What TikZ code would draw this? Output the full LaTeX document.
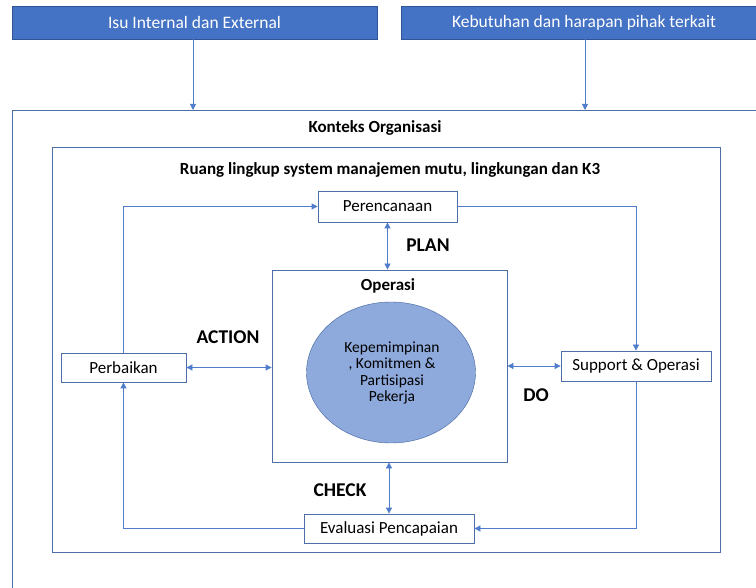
\documentclass[tikz,border=0pt]{standalone}
\usepackage{fontspec}
\setmainfont{Carlito}
\usetikzlibrary{arrows.meta,shapes.geometric}
\definecolor{boxblue}{HTML}{4472C4}
\definecolor{darkblue}{HTML}{2F5597}
\definecolor{lineblue}{HTML}{4F7CCB}
\definecolor{ovalblue}{HTML}{8EA9DB}
\begin{document}
\begin{tikzpicture}[x=1pt,y=-1pt,
  every node/.style={font=\fontsize{17}{20}\selectfont},
  topbox/.style={draw=darkblue,fill=boxblue,text=white,minimum width=365,minimum height=33,inner sep=0pt,font=\fontsize{17.5}{20}\selectfont},
  frame/.style={draw=darkblue!85,line width=0.8pt,anchor=north west,inner sep=0pt},
  stepbox/.style={draw=darkblue!85,fill=white,line width=0.8pt,inner sep=0pt},
  lbl/.style={font=\fontsize{19.5}{22}\selectfont\bfseries},
  ttl/.style={font=\fontsize{17}{20}\selectfont\bfseries},
  link/.style={draw=lineblue,line width=0.8pt,-{Triangle[length=6pt,width=6pt]}},
  dlink/.style={draw=lineblue,line width=0.8pt,{Triangle[length=6pt,width=6pt]}-{Triangle[length=6pt,width=6pt]}}]
\clip (0,0) rectangle (756,588);
% top inputs
\node[topbox] (isu) at (194.5,22.5) {Isu Internal dan External};
\node[topbox] (harapan) at (584,22.5) {Kebutuhan dan harapan pihak terkait};
% frames
\node[frame,minimum width=790,minimum height=520] (konteks) at (12,110) {};
\node[ttl] at (375,128) {Konteks Organisasi};
\node[frame,minimum width=668,minimum height=405] (ruang) at (52,147) {};
\node[ttl] at (390,170) {Ruang lingkup system manajemen mutu, lingkungan dan K3};
\draw[link] (isu.south -| 193,0) -- (193,0 |- konteks.north);
\draw[link] (harapan.south -| 585,0) -- (585,0 |- konteks.north);
% operasi
\node[stepbox,minimum width=235,minimum height=192] (operasi) at (389.5,366) {};
\node[ttl] at (388,286) {Operasi};
\node[draw=darkblue!90,fill=ovalblue,ellipse,minimum width=169,minimum height=141,inner sep=0pt] (pimpin) at (391,372.5) {};
\node[align=center,font=\fontsize{15.5}{16.5}\selectfont] at (392,373) {Kepemimpinan\\, Komitmen \&\\Partisipasi\\Pekerja};
% PDCA steps
\node[stepbox,minimum width=139,minimum height=31] (perencanaan) at (387.5,206.5) {Perencanaan};
\node[stepbox,minimum width=125,minimum height=29] (perbaikan) at (123.5,367.5) {Perbaikan};
\node[stepbox,minimum width=150,minimum height=30] (support) at (636,366) {Support \& Operasi};
\node[stepbox,minimum width=170,minimum height=29] (evaluasi) at (389,528.5) {Evaluasi Pencapaian};
\draw[link] (perbaikan.north) |- (perencanaan.west);
\draw[link] (perencanaan.east) -| (support.north);
\draw[link] (support.south) |- (evaluasi.east);
\draw[link] (evaluasi.west) -| (perbaikan.south);
\draw[dlink] (perencanaan.south) -- (perencanaan.south |- operasi.north);
\draw[dlink] (perbaikan.east) -- (perbaikan.east -| operasi.west);
\draw[dlink] (operasi.east |- support.west) -- (support.west);
\draw[dlink] (evaluasi.north) -- (evaluasi.north |- operasi.south);
\node[lbl] at (428,245) {PLAN};
\node[lbl] at (228,337) {ACTION};
\node[lbl] at (536,395) {DO};
\node[lbl] at (340,490) {CHECK};
\end{tikzpicture}
\end{document}
